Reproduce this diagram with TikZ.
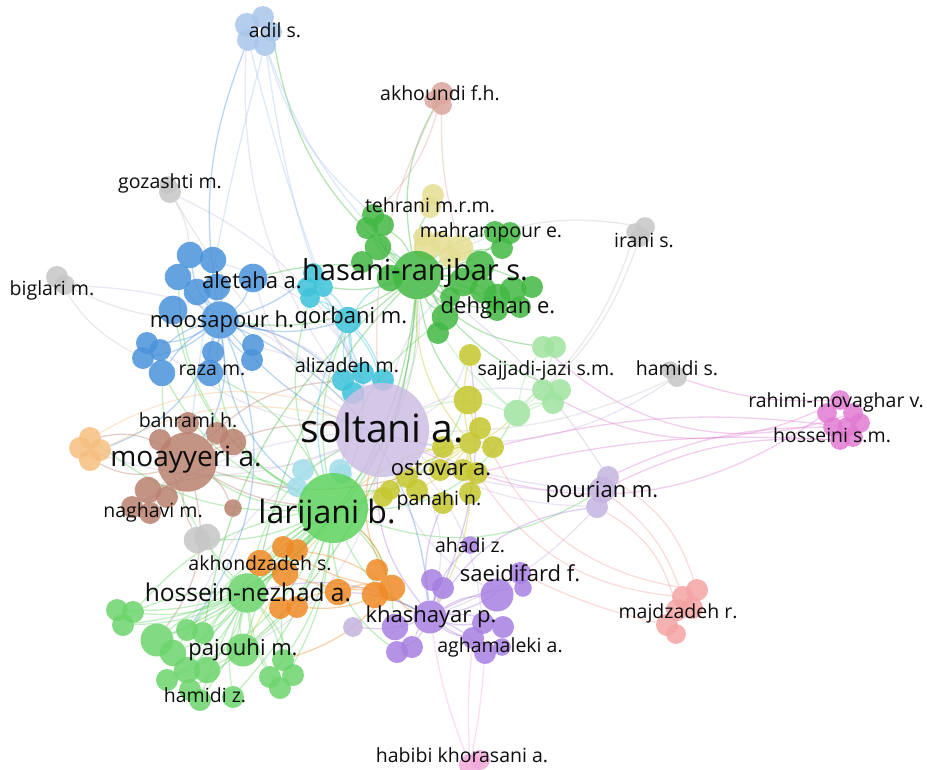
\documentclass[tikz,border=0pt]{standalone}
\usepackage{fontspec}
\setmainfont{Open Sans}
\usetikzlibrary{backgrounds}

\definecolor{adilC}{HTML}{A8C6EB}
\definecolor{akhC}{HTML}{D9A69D}
\definecolor{greyC}{HTML}{C6C6C6}
\definecolor{tehC}{HTML}{E4DE92}
\definecolor{grnC}{HTML}{42B842}
\definecolor{bluC}{HTML}{4A92DB}
\definecolor{cyaC}{HTML}{3CC2D9}
\definecolor{solC}{HTML}{CDBDE3}
\definecolor{brnC}{HTML}{B8806F}
\definecolor{orlC}{HTML}{F7BE80}
\definecolor{ltcC}{HTML}{A2DDEA}
\definecolor{larC}{HTML}{5DD35D}
\definecolor{ornC}{HTML}{F08A26}
\definecolor{lgrC}{HTML}{6CD56C}
\definecolor{purC}{HTML}{A77FE0}
\definecolor{yelC}{HTML}{C6C62E}
\definecolor{sjC}{HTML}{9FE39F}
\definecolor{pnkC}{HTML}{E07BD2}
\definecolor{pouC}{HTML}{C4B3DF}
\definecolor{majC}{HTML}{F4A3A3}
\definecolor{habC}{HTML}{F2A9D9}

\tikzset{
  bub/.style={circle, inner sep=0pt, draw=none, fill opacity=0.85},
  link/.style={draw=#1, draw opacity=0.38, line width=1.3pt},
  lbl/.style={text=black!95, inner sep=0pt, font=\fontsize{19.5}{20}\selectfont},
  lblM/.style={lbl, font=\fontsize{22}{23}\selectfont},
  lblL/.style={lbl, font=\fontsize{28}{29}\selectfont},
}

\begin{document}
\begin{tikzpicture}[x=1pt,y=-1pt]
\useasboundingbox (0,0) rectangle (927,769);

% bubbles
\foreach \n/\x/\y/\r in {ad1/247/25/11,ad2/263/17/10,ad3/248/40/10,ad4/265/45/10,ad5/272/32/9}
  \node[bub, fill=adilC, minimum size=2.2*\r] (\n) at (\x,\y) {};
\foreach \n/\x/\y/\r in {ak1/442/93/10,ak2/442/105/9,ak3/433/100/8}
  \node[bub, fill=akhC, minimum size=2.2*\r] (\n) at (\x,\y) {};
\foreach \n/\x/\y/\r in {gz1/170/192/10,gz2/168/185/8,bg1/57/277/10,bg2/65/285/9,ir1/645/227/9,ir2/640/237/9,ir3/635/232/8,hs1/677/377/9,hs2/670/370/8,gk1/197/540/12,gk2/207/537/12}
  \node[bub, fill=greyC, minimum size=2.2*\r] (\n) at (\x,\y) {};
\foreach \n/\x/\y/\r in {te1/433/195/10,te2/430/207/10,mh1/427/247/12,mh2/440/242/10,mh3/460/248/12,mh4/450/257/10,mh5/423/237/9}
  \node[bub, fill=tehC, minimum size=2.2*\r] (\n) at (\x,\y) {};
\foreach \n/\x/\y/\r in {g1/373/215/10,g2/383/225/10,g3/367/228/10,g4/378/247/12,g5/390/278/12,g6/445/317/12,g7/438/333/10,g8/450/297/9,g9/480/265/13,g10/495/232/10,g11/510/233/10,g12/502/248/10,g13/483/290/12,g14/497/297/12,g15/513/290/12,g16/532/287/10,g17/520/307/10,g18/497/310/10,g19/463/282/13,g20/362/262/10,has/417/275/22}
  \node[bub, fill=grnC, minimum size=2.2*\r] (\n) at (\x,\y) {};
\foreach \n/\x/\y/\r in {b1/190/255/12,b2/213/260/12,b3/178/277/12,b4/197/292/12,b5/217/287/12,b6/253/278/13,b7/173/310/13,b8/147/343/10,b9/160/350/10,b10/143/358/10,b11/162/373/12,b12/213/352/10,b13/210/373/12,b14/253/345/10,b15/252/360/10,moo/220/320/17}
  \node[bub, fill=bluC, minimum size=2.2*\r] (\n) at (\x,\y) {};
\foreach \n/\x/\y/\r in {c1/313/273/9,c2/323/287/9,c3/307/287/9,c4/310/298/9,qor/348/320/12,c5/343/380/10,c6/363/373/10,c7/383/380/10,c8/353/393/10}
  \node[bub, fill=cyaC, minimum size=2.2*\r] (\n) at (\x,\y) {};
\foreach \n/\x/\y/\r in {lc1/303/470/10,lc2/340/470/10,lc3/297/487/9,lc4/342/474/9}
  \node[bub, fill=ltcC, minimum size=2.2*\r] (\n) at (\x,\y) {};
\foreach \n/\x/\y/\r in {br1/188/423/10,br2/160/440/10,br3/233/442/12,br4/217/433/10,br5/148/490/12,br6/167/497/10,br7/132/507/10,br8/150/513/10,br9/233/508/8,moa/187/462/27}
  \node[bub, fill=brnC, minimum size=2.2*\r] (\n) at (\x,\y) {};
\foreach \n/\x/\y/\r in {lo1/90/438/10,lo2/80/448/10,lo3/100/450/10,lo4/90/460/10}
  \node[bub, fill=orlC, minimum size=2.2*\r] (\n) at (\x,\y) {};
\foreach \n/\x/\y/\r in {y1/470/355/10,y2/468/400/13,y3/480/428/10,y4/493/447/10,y5/470/443/10,y6/443/447/10,y7/440/470/10,y8/463/470/10,y9/477/473/10,y10/407/477/10,y11/390/490/9,y12/383/497/9,y13/417/490/10,y14/470/493/10,y15/443/503/10}
  \node[bub, fill=yelC, minimum size=2.2*\r] (\n) at (\x,\y) {};
\node[bub, fill=solC, minimum size=94] (sol) at (382,430) {};
\foreach \n/\x/\y/\r in {s1/543/347/10,s2/555/347/10,s3/543/390/10,s4/560/390/10,s5/553/403/10,s6/517/413/12}
  \node[bub, fill=sjC, minimum size=2.2*\r] (\n) at (\x,\y) {};
\node[bub, fill=larC, minimum size=70] (lar) at (333,508) {};
\foreach \n/\x/\y/\r in {o1/283/547/10,o2/297/550/10,o3/260/563/12,o4/285/573/12,o5/280/608/10,o6/297/607/10,o7/338/592/12,o8/377/570/10,o9/392/588/12,o10/375/595/12}
  \node[bub, fill=ornC, minimum size=2.2*\r] (\n) at (\x,\y) {};
\foreach \n/\x/\y/\r in {l1/117/610/10,l2/133/612/10,l3/123/625/10,l4/157/640/15,l5/173/653/12,l6/187/630/10,l7/203/633/10,l8/187/670/12,l9/207/670/12,l10/243/650/15,l11/167/680/10,l12/190/690/10,l13/200/700/10,l14/233/697/10,l15/283/660/10,l16/270/677/10,l17/293/675/10,l18/280/688/10,hos/247/593/18}
  \node[bub, fill=lgrC, minimum size=2.2*\r] (\n) at (\x,\y) {};
\foreach \n/\x/\y/\r in {p1/470/545/8,p2/432/580/10,p3/443/588/10,p4/395/627/12,p5/397/652/10,p6/412/647/10,p7/497/595/15,p8/520/573/10,p9/523/588/8,p10/483/623/10,p11/503/627/10,p12/473/638/10,p13/485/653/10,p14/502/647/8,kha/430/617/15}
  \node[bub, fill=purC, minimum size=2.2*\r] (\n) at (\x,\y) {};
\foreach \n/\x/\y/\r in {lv1/353/627/9,pu1/608/477/10,pu2/602/490/12,pu3/597/507/10}
  \node[bub, fill=pouC, minimum size=2.2*\r] (\n) at (\x,\y) {};
\foreach \n/\x/\y/\r in {r1/840/400/9,r2/827/413/9,r3/853/413/9,r4/833/427/9,r5/847/427/9,r6/860/423/9,r7/840/440/9,r8/853/437/9}
  \node[bub, fill=pnkC, minimum size=2.2*\r] (\n) at (\x,\y) {};
\foreach \n/\x/\y/\r in {mj1/697/590/10,mj2/683/597/10,mj3/677/610/10,mj4/667/625/10,mj5/692/608/10,mj6/676/634/9}
  \node[bub, fill=majC, minimum size=2.2*\r] (\n) at (\x,\y) {};
\foreach \n/\x/\y/\r in {hb1/470/765/10,hb2/480/760/9}
  \node[bub, fill=habC, minimum size=2.2*\r] (\n) at (\x,\y) {};

% links
\begin{pgfonlayer}{background}
\foreach \t/\b in {moo/35,b3/30,b11/20,moa/15,br5/-20,l1/25,l4/15,l8/-12,l11/20,l13/-15,l15/-20,l18/12,hos/10,kha/-20,p4/20,o3/12,has/-20,g6/20,y2/-25,s6/-30,pu2/-25,qor/15,c6/-12,gk1/12,lo1/20,l10/-15,l14/12,p5/-25,o9/15,y11/10,b7/25,l3/20,l5/-12,l16/15,l2/-18,l9/22,b13/-18,c4/20}
  \draw[link=larC] (lar) to[bend left=\b] (\t);
\foreach \t/\b in {moo/-20,b6/20,b14/-15,qor/12,has/-15,g9/20,y1/-20,s3/15,kha/25,p7/-20,moa/15,hs1/-20,ad1/20,gz1/-20,bg2/-20,lo2/20,l10/25,pu3/-15,b9/15,br7/-12,b2/-25,l6/-20,p10/18}
  \draw[link=solC] (sol) to[bend left=\b] (\t);
\foreach \t/\b in {g1/20,g2/-15,g3/15,g4/-10,g5/12,g6/-15,g7/20,g8/10,g9/-12,g10/15,g11/-12,g12/12,g13/-12,g14/15,g15/-15,g16/20,g17/-20,g18/15,g20/12,mh1/10,mh3/-12,te2/15,moo/20,b6/-12,c2/12,y2/-15,ak1/20,ad5/20,s1/-20,hos/25,l4/30,l12/25,s4/-15,l7/-20,o3/-15}
  \draw[link=grnC] (has) to[bend left=\b] (\t);
\foreach \t/\b in {b1/15,b2/-12,b3/12,b4/-10,b5/12,b6/-15,b7/10,b8/15,b9/-12,b10/15,b11/-12,b12/12,b13/-12,b14/12,b15/-12,moa/20,qor/-15,c5/15,ad3/15,lo3/25,kha/30,y6/-20,l6/30,c1/-12,lar/-25}
  \draw[link=bluC] (moo) to[bend left=\b] (\t);
\foreach \t/\b in {p1/15,p2/-12,p3/12,p4/-12,p5/15,p6/-12,p7/15,p8/-15,p9/12,p10/-12,p11/15,p12/-15,p13/12,p14/-12,o7/-12,y15/15,pu3/25,lv1/12,sol/20,hos/-20,y1/-15}
  \draw[link=purC] (kha) to[bend left=\b] (\t);
\foreach \t/\b in {br1/15,br2/-12,br3/12,br4/-12,br5/15,br6/-15,br7/12,br8/-12,br9/15,lo1/-20,lo4/20,lar/-12,sol/15,l4/25,gk1/-15,c5/20,y10/-15}
  \draw[link=brnC] (moa) to[bend left=\b] (\t);
\foreach \t/\b in {l1/15,l2/-12,l3/12,l4/-12,l5/15,l6/-12,l7/12,l8/-15,l9/12,l10/-12,l11/15,l12/-12,l13/12,l14/-15,l15/12,l16/-12,l17/15,l18/-12,gk2/15,o3/-12,lar/15,b11/20,sol/25,y12/20}
  \draw[link=lgrC] (hos) to[bend left=\b] (\t);
\foreach \t/\b in {y1/12,y2/-12,y3/12,y4/-12,y6/12,y7/-12,y8/12,y9/-12,y10/12,y12/-12,y13/12,y14/-12,sol/15,lar/-15,s6/-12,kha/15,has/20,l10/-20}
  \draw[link=yelC] (y5) to[bend left=\b] (\t);
\foreach \t/\b in {o1/12,o2/-12,o4/12,o5/-12,o6/15,o7/-15,o8/12,o10/-12,lar/-15,sol/20,kha/-20,l15/15}
  \draw[link=ornC] (o9) to[bend left=\b] (\t);
\foreach \t/\b in {lo1/-25,lo3/-20}
  \draw[link=orlC] (sol) to[bend left=\b] (\t);
% outer links
\draw[link=pnkC] (r2) to[bend left=30] (sol);
\draw[link=pnkC] (r1) to[bend left=28] (s3);
\draw[link=pnkC] (r3) to[bend left=30] (s1);
\draw[link=pnkC] (r4) to[bend right=12] (pu1);
\draw[link=pnkC] (r7) to[bend right=14] (pu2);
\draw[link=pnkC] (r5) to[bend right=10] (y4);
\draw[link=pnkC] (r7) to[bend right=8] (y9);
\draw[link=pnkC] (hs1) to[bend right=10] (r1);
\draw[link=greyC] (hs1) to[bend left=12] (sol);
\draw[link=majC] (pu3) to[bend left=22] (mj3);
\draw[link=majC] (pu2) to[bend left=16] (mj2);
\draw[link=majC] (pu1) to[bend left=20] (mj1);
\draw[link=majC] (mj4) to[bend left=6] (p8);
\draw[link=majC] (mj1) to[bend left=28] (y3);
\draw[link=majC] (mj2) to[bend left=25] (y9);
\draw[link=pouC] (pu2) to[bend left=10] (sol);
\draw[link=pouC] (pu2) to[bend left=8] (y7);
\draw[link=pouC] (pu3) to[bend left=12] (kha);
\draw[link=pouC] (pu1) to[bend right=10] (has);
\foreach \t/\b in {p13/-3,p12/4,kha/6}
  \draw[link=habC] (hb1) to[bend left=\b] (\t);
\foreach \t/\b in {g1/-15,sol/-8,moa/-4,has/-12}
  \draw[link=adilC] (ad4) to[bend left=\b] (\t);
\draw[link=adilC] (ad3) to[bend right=4] (sol);
\foreach \t/\b in {g1/15,mh3/-8,sol/-15}
  \draw[link=akhC] (ak1) to[bend left=\b] (\t);
\draw[link=greyC] (gz1) to[bend left=12] (b1);
\draw[link=greyC] (gz1) to[bend right=10] (sol);
\draw[link=greyC] (bg1) to[bend right=15] (b10);
\draw[link=greyC] (bg2) to[bend right=12] (moo);
\draw[link=greyC] (ir1) to[bend right=20] (has);
\draw[link=greyC] (ir2) to[bend left=15] (s6);
\draw[link=greyC] (ir3) to[bend left=12] (s3);
\foreach \t/\b in {c1/12,c2/-12,c3/12,c4/-12,c5/15,c6/-12,c7/12,c8/-15,sol/15,lar/-20,has/20}
  \draw[link=cyaC] (qor) to[bend left=\b] (\t);
\foreach \t/\b in {s1/12,s2/-12,s3/12,s4/-12,s5/15,sol/-20,has/15,y1/10}
  \draw[link=sjC] (s6) to[bend left=\b] (\t);
\end{pgfonlayer}

% labels
\node[lbl] (t-adil) at (275,30) {adil s.};
\node[lbl] (t-akh) at (440,93) {akhoundi f.h.};
\node[lbl] (t-goz) at (170,183) {gozashti m.};
\node[lbl] (t-teh) at (430,205) {tehrani m.r.m.};
\node[lbl] (t-mah) at (491,232) {mahrampour e.};
\node[lbl] (t-ira) at (644,240) {irani s.};
\node[lbl] (t-big) at (52,290) {biglari m.};
\node[lblM] (t-ale) at (252,280) {aletaha a.};
\node[font=\fontsize{29}{30}\selectfont, text=black!95, inner sep=0pt] (t-has) at (415,273) {hasani-ranjbar s.};
\node[lblM] (t-qor) at (351,318) {qorbani m.};
\node[lblM] (t-deh) at (498,308) {dehghan e.};
\node[lblM] (t-moo) at (222,322) {moosapour h.};
\node[lbl] (t-raz) at (212,370) {raza m.};
\node[lbl] (t-ali) at (347,365) {alizadeh m.};
\node[lbl] (t-saj) at (546,370) {sajjadi-jazi s.m.};
\node[lbl] (t-hms) at (677,368) {hamidi s.};
\node[lbl] (t-rah) at (836,402) {rahimi-movaghar v.};
\node[lbl] (t-hss) at (832,435) {hosseini s.m.};
\node[lbl] (t-bah) at (188,420) {bahrami h.};
\node[font=\fontsize{39}{40}\selectfont, text=black!95, inner sep=0pt] (t-sol) at (382,428) {soltani a.};
\node[lblL] (t-moa) at (186,460) {moayyeri a.};
\node[lblM] (t-ost) at (441,468) {ostovar a.};
\node[lbl] (t-pan) at (439,500) {panahi n.};
\node[lblM] (t-pou) at (602,492) {pourian m.};
\node[lbl] (t-nag) at (153,512) {naghavi m.};
\node[font=\fontsize{32}{33}\selectfont, text=black!95, inner sep=0pt] (t-lar) at (327,515) {larijani b.};
\node[lbl] (t-aha) at (470,545) {ahadi z.};
\node[lbl] (t-akz) at (260,563) {akhondzadeh s.};
\node[lblM] (t-sae) at (520,573) {saeidifard f.};
\node[font=\fontsize{24.5}{25}\selectfont, text=black!95, inner sep=0pt] (t-hos) at (248,592) {hossein-nezhad a.};
\node[lblM] (t-kha) at (431,617) {khashayar p.};
\node[lbl] (t-maj) at (678,613) {majdzadeh r.};
\node[lbl] (t-agh) at (500,647) {aghamaleki a.};
\node[lblM] (t-paj) at (243,650) {pajouhi m.};
\node[lbl] (t-hmz) at (205,695) {hamidi z.};
\node[lbl] (t-hab) at (462,755) {habibi khorasani a.};
\end{tikzpicture}
\end{document}
